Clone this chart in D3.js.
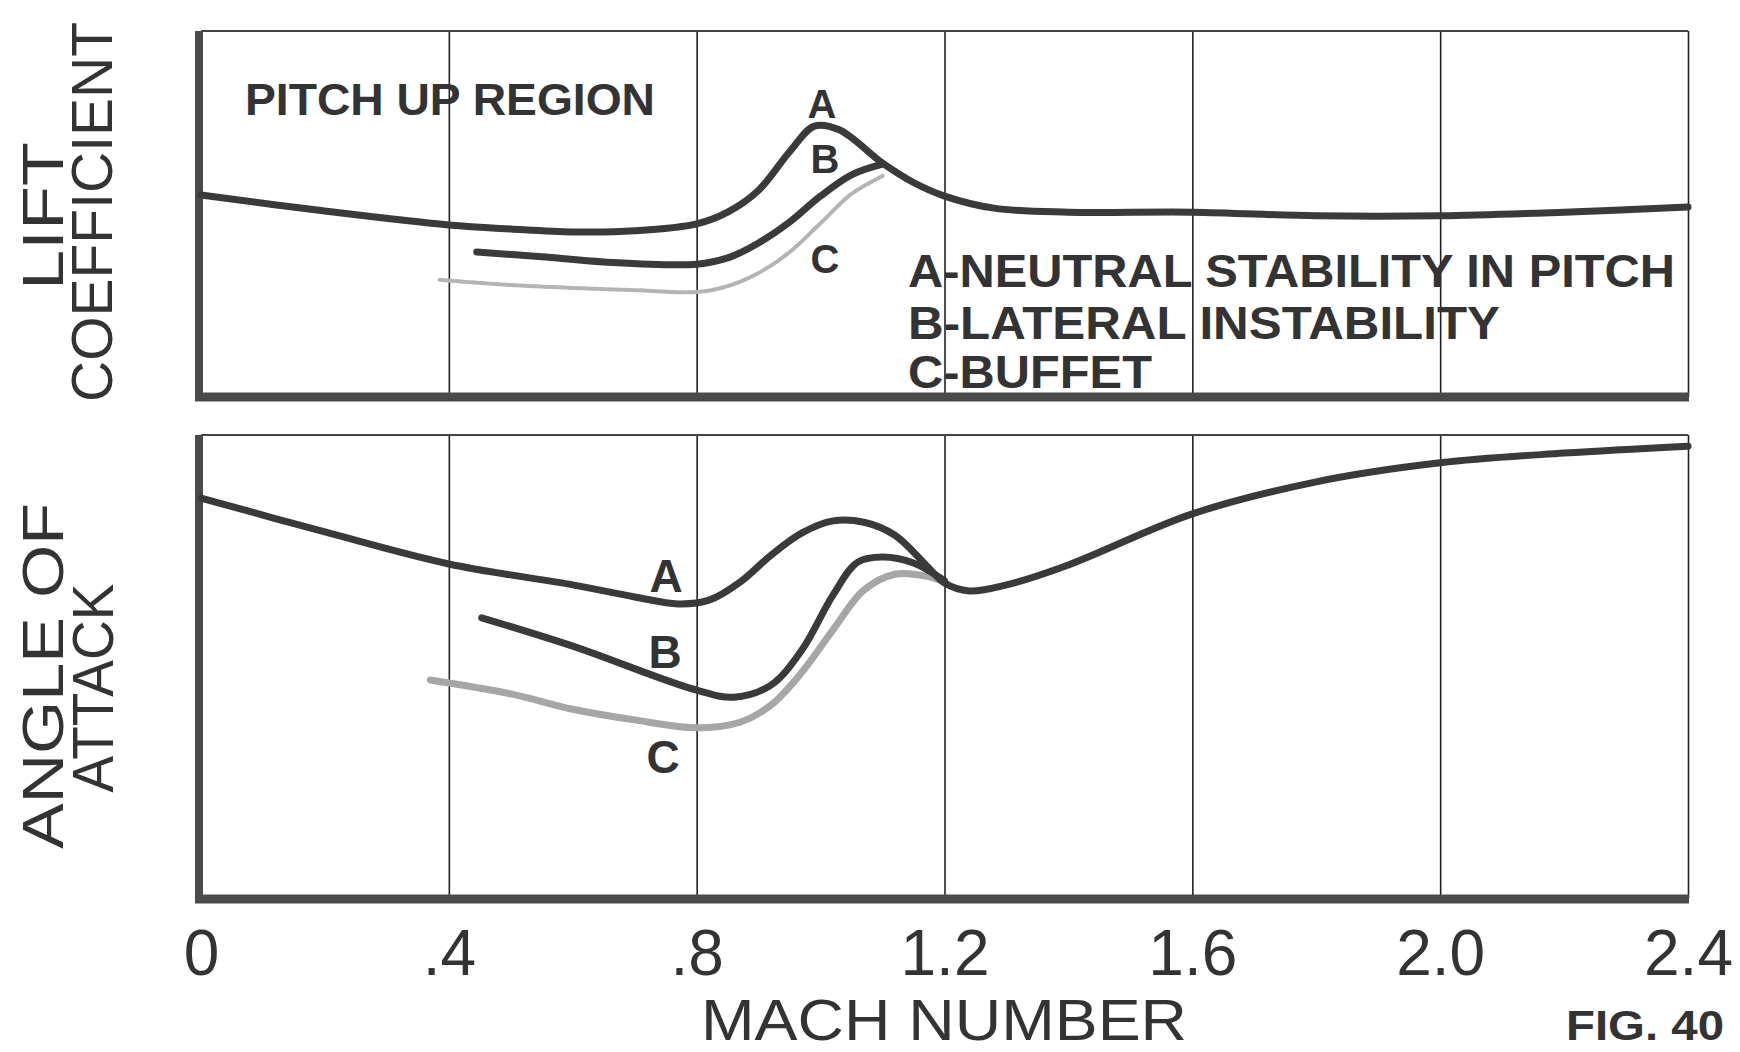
<!DOCTYPE html>
<html>
<head>
<meta charset="utf-8">
<script src="https://cdn.jsdelivr.net/npm/d3@7"></script>
<style>
  html, body { margin: 0; padding: 0; background: #ffffff; }
  svg { display: block; }
</style>
</head>
<body>
<svg id="chart" width="1740" height="1052"></svg>
<script>
// ---------------- DATA ----------------
const machTicks = [0, 0.4, 0.8, 1.2, 1.6, 2.0, 2.4];
const tickLabels = ["0", ".4", ".8", "1.2", "1.6", "2.0", "2.4"];

// Upper panel: lift coefficient (relative units, 0 = axis, 100 = top)
const liftA_mach = [0, 0.2, 0.4, 0.5, 0.6, 0.7, 0.8, 0.85, 0.9, 0.95, 0.99, 1.03, 1.1, 1.15, 1.2, 1.28, 1.4, 1.6, 1.8, 2.0, 2.2, 2.4];
const liftA_val  = [55.2, 50.8, 47.0, 45.9, 45.1, 45.4, 47.3, 50.5, 56.5, 67.0, 74.0, 73.0, 63.9, 58.6, 54.9, 51.6, 50.5, 50.5, 49.5, 49.5, 50.5, 51.9];
const liftB_mach = [0.445, 0.55, 0.65, 0.8, 0.85, 0.9, 0.95, 1.0, 1.05, 1.1];
const liftB_val  = [39.6, 38.3, 36.9, 36.3, 38.0, 42.1, 47.8, 54.9, 60.7, 63.6];
const liftC_mach = [0.385, 0.5, 0.6, 0.7, 0.8, 0.85, 0.9, 0.95, 1.0, 1.05, 1.1];
const liftC_val  = [32.0, 30.6, 29.8, 29.2, 28.7, 30.3, 33.9, 39.6, 47.5, 55.5, 60.4];

// Lower panel: angle of attack (relative units)
const aoaA_mach = [0, 0.2, 0.4, 0.6, 0.7, 0.77, 0.82, 0.87, 0.92, 0.97, 1.02, 1.07, 1.12, 1.17, 1.2, 1.24, 1.3, 1.4, 1.6, 1.8, 2.0, 2.2, 2.4];
const aoaA_val  = [86.4, 79.1, 72.2, 67.7, 65.1, 63.6, 64.4, 68.3, 74.1, 78.9, 81.5, 81.2, 78.4, 72.0, 68.1, 66.4, 67.7, 72.0, 83.0, 89.9, 94.0, 96.1, 97.6];
const aoaB_mach = [0.453, 0.6, 0.8, 0.86, 0.92, 0.97, 1.02, 1.06, 1.1, 1.15, 1.2];
const aoaB_val  = [60.6, 54.5, 45.0, 43.5, 46.1, 53.7, 65.5, 72.6, 73.7, 72.4, 68.6];
const aoaC_mach = [0.37, 0.5, 0.6, 0.7, 0.8, 0.87, 0.92, 0.97, 1.02, 1.07, 1.12, 1.17, 1.2];
const aoaC_val  = [47.2, 44.2, 40.9, 38.6, 36.9, 38.1, 41.8, 48.9, 58.0, 66.6, 70.0, 69.6, 68.3];

const legendLines = ["A-NEUTRAL  STABILITY  IN  PITCH", "B-LATERAL  INSTABILITY", "C-BUFFET"];

// ---------------- LAYOUT ----------------
const svg = d3.select("#chart");
const x = d3.scaleLinear().domain([0, 2.4]).range([201, 1688]);
const yTop = d3.scaleLinear().domain([0, 100]).range([397, 31]);
const yBot = d3.scaleLinear().domain([0, 100]).range([899, 435]);

const ink = "#3a3a3a";
const font = "'Liberation Sans', Arial, sans-serif";

function zip(ms, vs) { return ms.map((m, i) => [m, vs[i]]); }

function panel(y) {
  const g = svg.append("g");
  const grid = d3.axisBottom(x).tickValues(machTicks.slice(1)).tickSize(-(y.range()[0] - y.range()[1])).tickFormat("");
  g.append("g").attr("transform", `translate(0,${y.range()[0]})`).call(grid)
    .call(s => s.select(".domain").remove())
    .call(s => s.selectAll("line").attr("stroke", "#222").attr("stroke-width", 1.6));
  g.append("line").attr("x1", x(0)).attr("x2", x(2.4)).attr("y1", y(100)).attr("y2", y(100))
    .attr("stroke", "#444").attr("stroke-width", 2);
  g.append("line").attr("x1", x(0) - 2).attr("x2", x(0) - 2).attr("y1", y(100)).attr("y2", y(0) + 4)
    .attr("stroke", "#4a4a4a").attr("stroke-width", 8);
  g.append("line").attr("x1", x(0) - 6).attr("x2", x(2.4) + 1).attr("y1", y(0)).attr("y2", y(0))
    .attr("stroke", "#4a4a4a").attr("stroke-width", 9);
  return g;
}

panel(yTop);
panel(yBot);

function drawLine(y, ms, vs, color, width, extra) {
  const line = d3.line().x(d => x(d[0])).y(d => y(d[1])).curve(d3.curveCatmullRom.alpha(0.5));
  const p = svg.append("path").datum(zip(ms, vs)).attr("d", line)
    .attr("fill", "none").attr("stroke", color).attr("stroke-width", width)
    .attr("stroke-linecap", "round").attr("stroke-linejoin", "round");
  if (extra) extra(p);
  return p;
}

// Upper panel curves
drawLine(yTop, liftC_mach, liftC_val, "#b4b4b4", 4, p => p.attr("stroke-dasharray", "6,2"));
drawLine(yTop, liftB_mach, liftB_val, ink, 7);
drawLine(yTop, liftA_mach, liftA_val, ink, 7);

// Lower panel curves
drawLine(yBot, aoaC_mach, aoaC_val, "#a6a6a6", 7);
drawLine(yBot, aoaB_mach, aoaB_val, ink, 7);
drawLine(yBot, aoaA_mach, aoaA_val, ink, 7);

// ---------------- TEXT ----------------
function txt(str, xx, yy, size, weight, opts = {}) {
  const t = svg.append("text").attr("x", xx).attr("y", yy).text(str)
    .attr("font-family", font).attr("font-size", size).attr("font-weight", weight)
    .attr("fill", opts.fill || "#333").attr("text-anchor", opts.anchor || "start");
  if (opts.len) t.attr("textLength", opts.len).attr("lengthAdjust", "spacingAndGlyphs");
  if (opts.rotate) t.attr("transform", `rotate(-90,${xx},${yy})`);
  return t;
}

txt("PITCH  UP  REGION", 245, 115, 44, "bold", { len: 410 });
txt("A", 822, 118, 40, "bold", { anchor: "middle" });
txt("B", 825, 173, 40, "bold", { anchor: "middle" });
txt("C", 825, 273, 40, "bold", { anchor: "middle" });

const legendY = [287, 339, 388];
const legendLen = [767, 592, 244];
legendLines.forEach((s, i) => txt(s, 908, legendY[i], 46, "bold", { len: legendLen[i] }));

txt("A", 666, 592, 46, "bold", { anchor: "middle" });
txt("B", 665, 668, 46, "bold", { anchor: "middle" });
txt("C", 663, 773, 46, "bold", { anchor: "middle" });

const xAxis = d3.axisBottom(x).tickValues(machTicks).tickSize(0)
  .tickFormat((d, i) => tickLabels[i]);
svg.append("g").attr("transform", "translate(0,927)").call(xAxis)
  .call(s => s.select(".domain").remove())
  .call(s => s.selectAll("text").attr("font-family", font).attr("font-size", 64)
    .attr("fill", "#333").attr("dy", "0.71em"));

txt("MACH  NUMBER", 701, 1040, 58, "normal", { len: 486 });
txt("FIG. 40", 1566, 1040, 42, "bold", { len: 158 });

txt("LIFT", 63, 216, 58, "normal", { anchor: "middle", rotate: true, len: 148 });
txt("COEFFICIENT", 112, 212, 58, "normal", { anchor: "middle", rotate: true, len: 380 });
txt("ANGLE  OF", 63, 676, 58, "normal", { anchor: "middle", rotate: true, len: 346 });
txt("ATTACK", 113, 688, 58, "normal", { anchor: "middle", rotate: true, len: 209 });
</script>
</body>
</html>
